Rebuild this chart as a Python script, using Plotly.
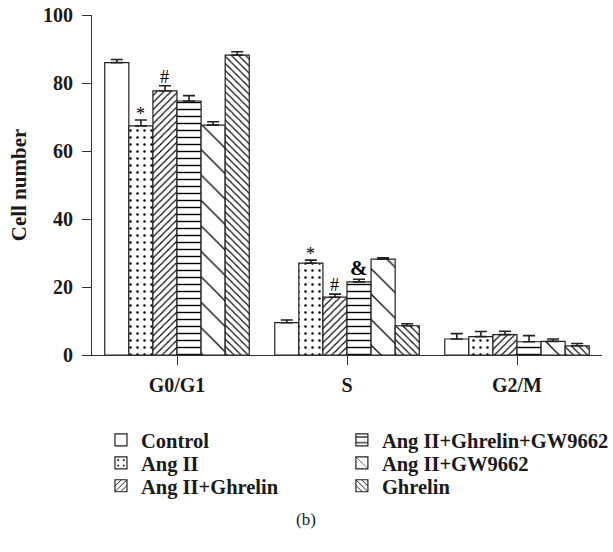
import plotly.graph_objects as go

phases = ["G0/G1", "S", "G2/M"]
groups = ["Control", "Ang II", "Ang II+Ghrelin", "Ang II+Ghrelin+GW9662", "Ang II+GW9662", "Ghrelin"]
values = {
    "Control": [86.0, 9.5, 4.7],
    "Ang II": [67.4, 27.0, 5.4],
    "Ang II+Ghrelin": [77.7, 17.0, 6.0],
    "Ang II+Ghrelin+GW9662": [74.7, 21.5, 3.9],
    "Ang II+GW9662": [67.6, 28.2, 4.0],
    "Ghrelin": [88.2, 8.6, 2.7],
}
errors = {
    "Control": [0.9, 0.8, 1.6],
    "Ang II": [1.7, 0.9, 1.5],
    "Ang II+Ghrelin": [1.5, 0.9, 1.0],
    "Ang II+Ghrelin+GW9662": [1.6, 0.8, 1.8],
    "Ang II+GW9662": [1.0, 0.4, 0.7],
    "Ghrelin": [1.0, 0.6, 0.7],
}
# significance marks: (group, phase index, symbol)
marks = [("Ang II", 0, "*"), ("Ang II+Ghrelin", 0, "#"),
         ("Ang II", 1, "*"), ("Ang II+Ghrelin", 1, "#"), ("Ang II+Ghrelin+GW9662", 1, "&")]

patterns = {
    "Control": dict(shape=""),
    "Ang II": dict(shape=".", size=7, solidity=0.1),
    "Ang II+Ghrelin": dict(shape="/", size=5, solidity=0.22),
    "Ang II+Ghrelin+GW9662": dict(shape="-", size=7, solidity=0.2),
    "Ang II+GW9662": dict(shape="\\", size=18, solidity=0.07),
    "Ghrelin": dict(shape="\\", size=5, solidity=0.22),
}
# legend layout: column (0/1) and row (0..2) for each group
legend_slot = {"Control": (0, 0), "Ang II": (0, 1), "Ang II+Ghrelin": (0, 2),
               "Ang II+Ghrelin+GW9662": (1, 0), "Ang II+GW9662": (1, 1), "Ghrelin": (1, 2)}

FONT = "Liberation Serif"
INK = "#1a1a1a"
fig = go.Figure()
legend_layouts = {}
col_x = [0.0176, 0.490]
row_y = [-0.25, -0.3176, -0.385]
for i, g in enumerate(groups):
    lname = "legend" if i == 0 else f"legend{i + 1}"
    pat = dict(fgcolor="black", bgcolor="white", fillmode="replace", **patterns[g])
    fig.add_trace(go.Bar(
        name=f"<b>{g}</b>", x=phases, y=values[g],
        marker=dict(color="white", line=dict(color="#222", width=1.2), pattern=pat),
        error_y=dict(type="data", symmetric=False, array=errors[g], arrayminus=[0] * len(phases),
                     color="#222", thickness=1.6, width=6),
        legend=lname,
    ))
    c, r = legend_slot[g]
    legend_layouts[lname] = dict(x=col_x[c], y=row_y[r], xanchor="left", yanchor="middle",
                                 orientation="v", bgcolor="rgba(0,0,0,0)",
                                 font=dict(family=FONT, size=20.5, color=INK), itemwidth=30)

bargap = 0.15
nb = len(groups)
bw = (1 - bargap) / nb
shift = {"*": -6, "#": -3, "&": -3}
for g, pi, sym in marks:
    gi = groups.index(g)
    xoff = (gi - (nb - 1) / 2) * bw
    big = sym == "&"
    fig.add_annotation(
        x=pi + xoff, y=values[g][pi] + errors[g][pi], xref="x", yref="y",
        text=f"<b>{sym}</b>" if big else sym, showarrow=False, yanchor="bottom", yshift=shift[sym],
        font=dict(family=FONT, size=21 if big else 18, color="black"),
    )

fig.add_annotation(x=0.42, y=-0.485, xref="paper", yref="paper", text="(b)", showarrow=False,
                   yanchor="middle", xanchor="center",
                   font=dict(family=FONT, size=17, color=INK))

fig.update_layout(
    width=613, height=552,
    margin=dict(l=92, r=11, t=15, b=197, autoexpand=False),
    paper_bgcolor="white", plot_bgcolor="white",
    barmode="group", bargap=bargap, bargroupgap=0,
    font=dict(family=FONT, color=INK),
    showlegend=True,
    xaxis=dict(range=[-0.5, 2.5], showline=True, linecolor="#333", linewidth=1.2, automargin=False,
               ticks="outside", ticklen=9, tickcolor="#333", tickwidth=1.2, ticklabelstandoff=3,
               tickfont=dict(family=FONT, size=20, color=INK),
               tickvals=list(range(len(phases))), ticktext=[f"<b>{p}</b>" for p in phases]),
    yaxis=dict(range=[0, 100], showline=True, linecolor="#333", linewidth=1.2, automargin=False,
               ticks="outside", ticklen=9, tickcolor="#333", tickwidth=1.2, dtick=20,
               showgrid=False, zeroline=False, ticklabelstandoff=5, ticklabeloverflow="allow",
               tickfont=dict(family=FONT, size=20, color=INK), tickformat="d",
               tickprefix="<b>", ticksuffix="</b>",
               title=dict(text="<b>Cell number</b>", font=dict(family=FONT, size=21, color=INK), standoff=10)),
    **legend_layouts,
)
fig.write_html("out.html", config={"displayModeBar": False},
               post_script="document.body.style.margin='0';")
